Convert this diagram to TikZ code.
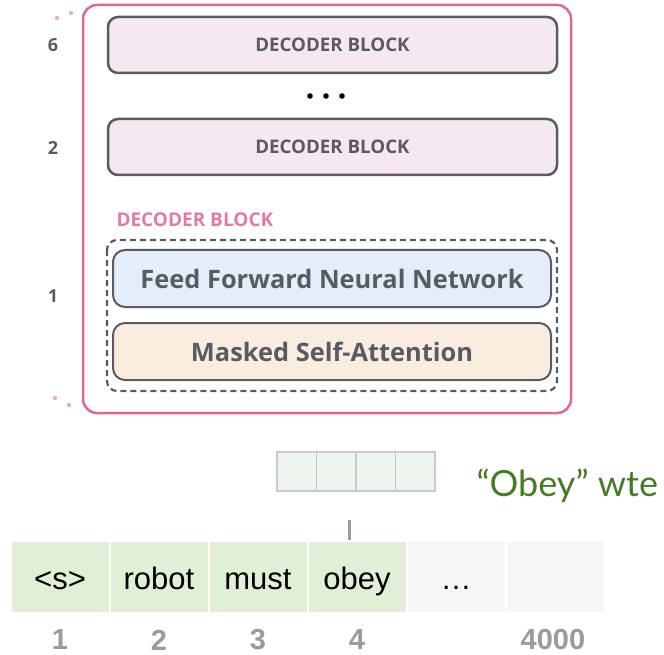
\documentclass[tikz,border=0pt]{standalone}
\usepackage{fontspec}
\setmainfont{Open Sans}
\newfontfamily\helv{Liberation Sans}
\newfontfamily\lato{Lato}
\definecolor{stackpink}{RGB}{221,104,140}
\definecolor{labelpink}{RGB}{228,124,158}
\definecolor{dotpink}{RGB}{236,170,195}
\definecolor{blockfill}{RGB}{246,232,240}
\definecolor{blockline}{RGB}{88,92,98}
\definecolor{ffnnfill}{RGB}{229,237,250}
\definecolor{msafill}{RGB}{250,237,224}
\definecolor{tokgreen}{RGB}{227,238,215}
\definecolor{tokgrey}{RGB}{245,245,245}
\definecolor{vecfill}{RGB}{238,244,238}
\definecolor{vecline}{RGB}{200,204,200}
\definecolor{wtegreen}{RGB}{66,125,36}
\definecolor{numgrey}{RGB}{155,155,155}
\begin{document}
\begin{tikzpicture}[x=1pt, y=-1pt,
  block/.style={draw=blockline, line width=2.5pt, rounded corners=10pt, fill=blockfill,
    minimum width=449pt, minimum height=56pt, inner sep=0pt,
    text=blockline, font=\fontsize{18.7}{22}\selectfont\bfseries},
  layer/.style={draw=blockline, line width=2pt, rounded corners=12pt,
    minimum width=438pt, minimum height=57pt, inner sep=0pt,
    text=blockline, font=\fontsize{25.4}{30}\selectfont\bfseries},
  token/.style={minimum width=97pt, minimum height=70pt, inner sep=0pt,
    text height=30pt, text depth=6pt, font=\helv\fontsize{31}{36}\selectfont},
  cell/.style={draw=vecline, line width=1.2pt, fill=vecfill,
    minimum width=39.5pt, minimum height=39pt, inner sep=0pt},
  num/.style={text=numgrey, font=\helv\bfseries\fontsize{29}{34}\selectfont},
  lnum/.style={text=blockline, font=\fontsize{18}{20}\selectfont\bfseries}]
\useasboundingbox (0,0) rectangle (664,655);
% decoder stack
\draw[stackpink, line width=2.5pt, rounded corners=14pt] (83,5) rectangle (571,413);
\fill[dotpink] (57,18) circle (2.2pt) (71,13) circle (2.2pt);
\fill[dotpink] (55,398) circle (2.2pt) (69,405) circle (2.2pt);
\node[lnum] (n6) at (53,45) {6};
\node[lnum] (n2) at (53,148) {2};
\node[lnum] (n1) at (53,296) {1};
\node[block] (Block 6) at (332.5,45) {DECODER BLOCK};
\fill (310,96) circle (2.8pt) (326,96) circle (2.8pt) (342,96) circle (2.8pt);
\node[block] (Block 2) at (332.5,147) {DECODER BLOCK};
\node[anchor=west, text=labelpink, font=\fontsize{19}{22}\selectfont\bfseries] (Block 1) at (113,220) {DECODER BLOCK};
\draw[blockline, line width=2.2pt, dash pattern=on 6pt off 4pt, rounded corners=10pt] (107,240) rectangle (557,391);
\node[layer, fill=ffnnfill] (FFNN) at (332,278.5) {Feed Forward Neural Network};
\node[layer, fill=msafill] (MSA) at (332,351.5) {Masked Self-Attention};
% token embedding
\node[cell] (v1) at (296.75,471.5) {};
\node[cell] (v2) at (336.25,471.5) {};
\node[cell] (v3) at (375.75,471.5) {};
\node[cell] (v4) at (415.25,471.5) {};
\node[anchor=west, text=wtegreen, font=\lato\fontsize{36}{40}\selectfont] (wte) at (473,486) {“Obey” wte};
% tokens
\node[token, fill=tokgreen] (t1) at (60,577) {<s>};
\node[token, fill=tokgreen] (t2) at (159,577) {robot};
\node[token, fill=tokgreen] (t3) at (258,577) {must};
\node[token, fill=tokgreen] (t4) at (357,577) {obey};
\node[token, fill=tokgrey] (t5) at (456,577) {…};
\node[token, fill=tokgrey] (t6) at (555,577) {};
\draw[numgrey, line width=3pt] ([xshift=-8pt, yshift=2pt]t4.north) -- ([xshift=-8pt, yshift=22pt]t4.north);
\node[num] (p1) at (60,640) {1};
\node[num] (p2) at (159,640) {2};
\node[num] (p3) at (258,640) {3};
\node[num] (p4) at (357,640) {4};
\node[num] (p6) at (553,640) {4000};
\end{tikzpicture}
\end{document}
